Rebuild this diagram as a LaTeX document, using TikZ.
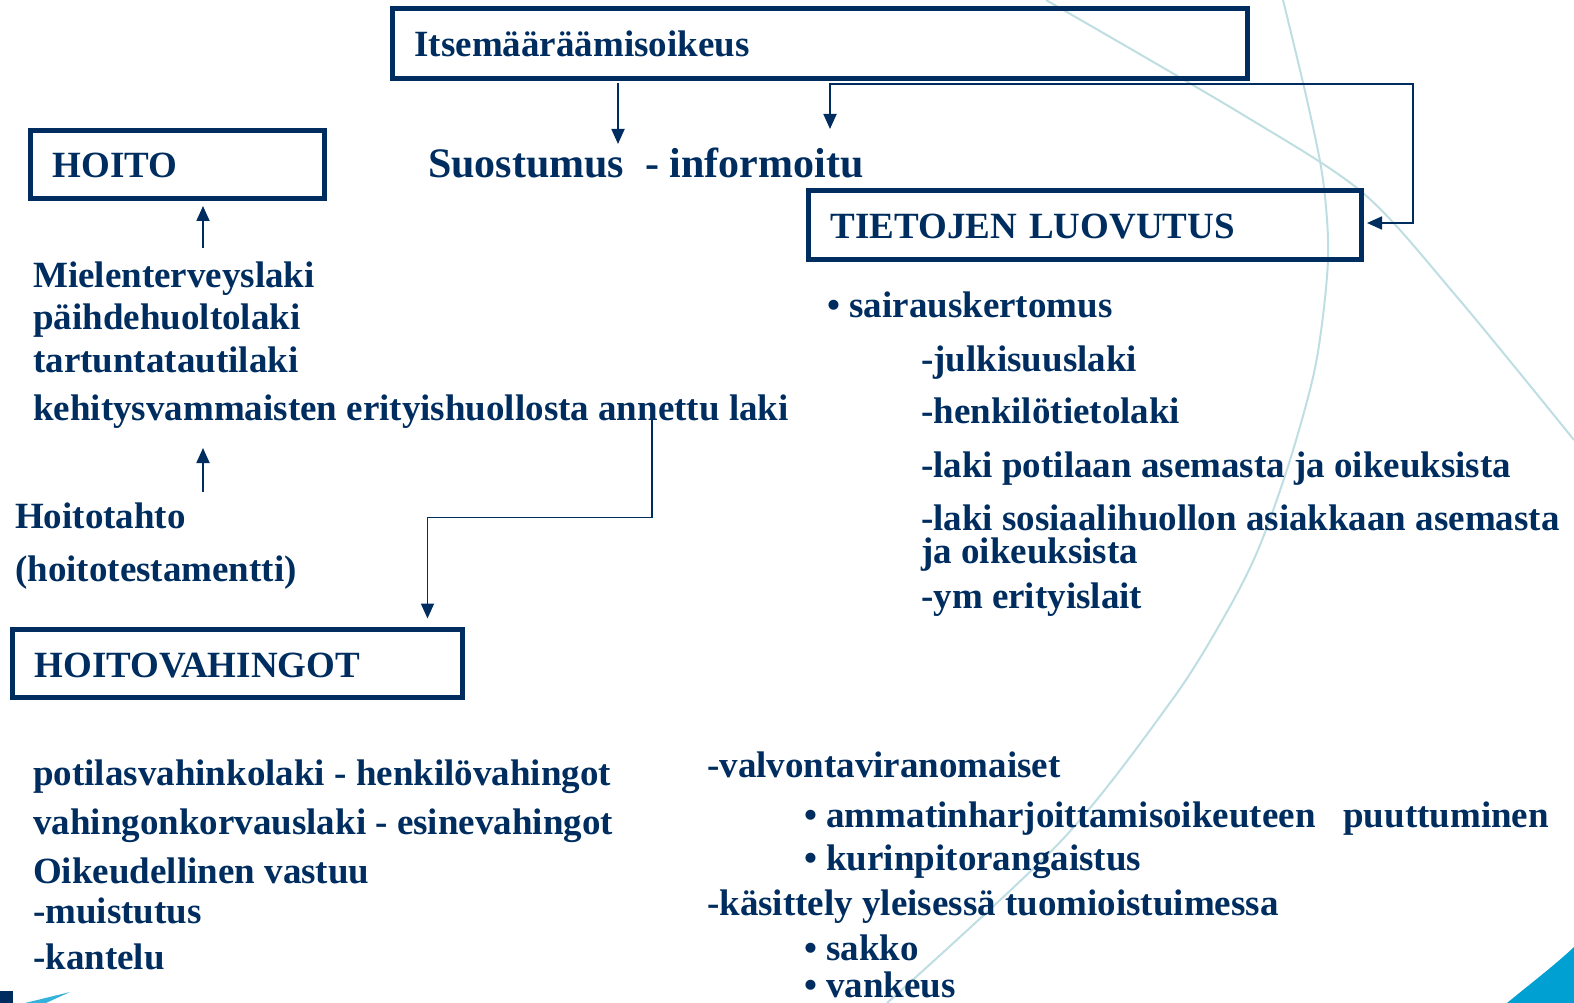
\documentclass[tikz,border=0pt]{standalone}
\usepackage{fontspec}
\setmainfont{Liberation Serif}
\usepackage{tikz}
\usetikzlibrary{arrows.meta,calc}

\definecolor{navy}{RGB}{0,45,95}
\definecolor{kaari}{RGB}{190,222,226}
\definecolor{syaani}{RGB}{0,160,210}

\begin{document}
\begin{tikzpicture}[
        x=1pt, y=-1pt,
        laatikko/.style={draw=navy, line width=5pt, inner xsep=22pt, inner ysep=0pt, outer sep=0pt,
            text height=27pt, text depth=0pt, align=left, text=navy,
            font=\fontsize{37}{43}\selectfont\bfseries},
        teksti/.style={anchor=base west, inner sep=0pt, text=navy,
            font=\fontsize{37}{43}\selectfont\bfseries},
        yhteys/.style={draw=navy, line width=1.8pt, -{Triangle[length=15pt,width=13pt]}},
        kaksoisyhteys/.style={draw=navy, line width=1.8pt,
            {Triangle[length=15pt,width=13pt]}-{Triangle[length=15pt,width=13pt]}},
        tausta/.style={draw=kaari, line width=2pt}
    ]
    \useasboundingbox (0,0) rectangle (1574,1003);

    % Background arcs and corner marks
    \draw[tausta] plot[smooth] coordinates {(1046,0) (1240,113) (1363,193) (1457,297) (1574,440)};
    \draw[tausta] plot[smooth] coordinates {(1283,0) (1307,100) (1323,180) (1328,260) (1316,363)
        (1290,460) (1258,550) (1224,617) (1172,700) (1062,840) (887,1003)};
    \fill[syaani] (1507,1003) .. controls (1530,984) and (1555,965) .. (1574,947) -- (1574,1003) -- cycle;
    \fill[navy] (0,991) rectangle (13,1003);
    \fill[syaani!80] (25,1003) -- (70,992) -- (46,1003) -- cycle;

    % Top: self-determination and consent
    \node[laatikko, text width=811pt, minimum height=70pt] (itse) at (820,43.5) {Itsemääräämisoikeus};
    \node[teksti, font=\fontsize{42}{48}\selectfont\bfseries] (suost) at (428,178) {Suostumus\ \ - informoitu};

    % Left: treatment
    \node[laatikko, text width=249.5pt, minimum height=68pt] (hoito) at (177.25,164.5) {HOITO};
    \node[teksti] (mielen) at (33,287) {Mielenterveyslaki};
    \node[teksti] (paihde) at (33,329) {päihdehuoltolaki};
    \node[teksti] (tartunta) at (33,372) {tartuntatautilaki};
    \node[teksti] (kehitys) at (33,420) {kehitysvammaisten erityishuollosta annettu laki};
    \node[teksti] (tahto) at (15,528) {Hoitotahto};
    \node[teksti] (testam) at (15,581) {(hoitotestamentti)};

    % Right: disclosure of information
    \node[laatikko, text width=509pt, minimum height=69pt] (tieto) at (1085,225) {TIETOJEN LUOVUTUS};
    \node[teksti] (sairaus) at (827,317) {• sairauskertomus};
    \node[teksti] (julki) at (921,371) {-julkisuuslaki};
    \node[teksti] (henkilo) at (921,423) {-henkilötietolaki};
    \node[teksti] (potilas) at (921,477) {-laki potilaan asemasta ja oikeuksista};
    \node[teksti] (sosiaali) at (921,530) {-laki sosiaalihuollon asiakkaan asemasta};
    \node[teksti] (sosiaali2) at (921,563) {ja oikeuksista};
    \node[teksti] (erityis) at (921,608) {-ym erityislait};

    % Bottom: treatment injuries
    \node[laatikko, text width=405.5pt, minimum height=68pt] (vahin) at (237.25,663.5) {HOITOVAHINGOT};
    \node[teksti] (potvahinko) at (33,785) {potilasvahinkolaki - henkilövahingot};
    \node[teksti] (korvaus) at (33,834) {vahingonkorvauslaki - esinevahingot};
    \node[teksti] (vastuu) at (33,883) {Oikeudellinen vastuu};
    \node[teksti] (muistutus) at (33,923) {-muistutus};
    \node[teksti] (kantelu) at (33,969) {-kantelu};

    \node[teksti] (valvonta) at (707,777) {-valvontaviranomaiset};
    \node[teksti] (ammatti) at (804,827) {• ammatinharjoittamisoikeuteen\ \ \ puuttuminen};
    \node[teksti] (kurinpito) at (804,870) {• kurinpitorangaistus};
    \node[teksti] (kasittely) at (707,915) {-käsittely yleisessä tuomioistuimessa};
    \node[teksti] (sakko) at (804,960) {• sakko};
    \node[teksti] (vankeus) at (804,997) {• vankeus};

    % Connectors
    \draw[yhteys] ($(itse.south west)+(225.5,4.5)$) -- ($(suost.base west)+(190,-34)$);
    \draw[kaksoisyhteys] ($(suost.base west)+(402,-49)$) |- ($(itse.south east)+(165.5,5.5)$)
        |- ($(tieto.east)+(5.5,-2)$);
    \draw[yhteys] ($(mielen.base west)+(170,-39)$) -- ($(hoito.south west)+(172.5,7.5)$);
    \draw[yhteys] ($(tahto.base west)+(188,-36)$) -- ($(kehitys.base west)+(170,28)$);
    \draw[yhteys] ($(kehitys.base west)+(619,-2)$) |- ($(vahin.north west)+(415,-112)$)
        -- ($(vahin.north west)+(415,-11)$);

\end{tikzpicture}
\end{document}
